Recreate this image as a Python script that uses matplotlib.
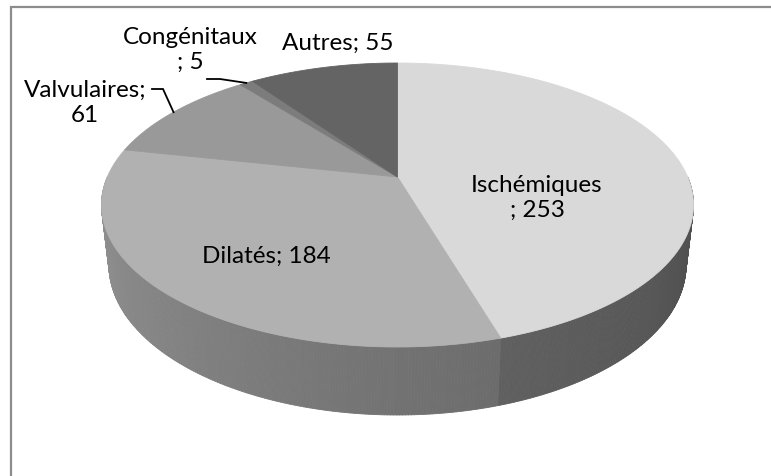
import numpy as np
import matplotlib
matplotlib.use("Agg")
import matplotlib.pyplot as plt
from matplotlib.patches import Polygon
from matplotlib.collections import PolyCollection
from matplotlib.colors import to_rgb

# ---- data ----
categories = ["Ischémiques", "Dilatés", "Valvulaires", "Congénitaux", "Autres"]
values = [253, 184, 61, 5, 55]
label_texts = ["Ischémiques\n; 253", "Dilatés; 184", "Valvulaires;\n61",
               "Congénitaux\n; 5", "Autres; 55"]

# ---- style ----
top_colors = ["#d9d9d9", "#b1b1b1", "#999999", "#7c7c7c", "#646464"]
side_colors = [("#4b4b4b", "#606060"), ("#6c6c6c", "#959595"),
               ("#707070", "#707070"), ("#606060", "#606060"), ("#454545", "#454545")]
label_pos = [(537, 198), (266, 256), (85, 103), (190, 50), (338, 43)]

W, H = 771, 476
fig = plt.figure(figsize=(W / 100, H / 100), dpi=100)
ax = fig.add_axes([0, 0, 1, 1])
ax.set_xlim(0, W)
ax.set_ylim(H, 0)
ax.axis("off")

# ---- perspective projection of a cylinder ----
cx, cy = 397.5, 177
v_far, v_near, half_w, v_bot = 114, 170, 296, 238
k = (v_near - v_far) / (v_near + v_far)
f_over_D = half_w * np.sqrt(1 - k ** 2)
s = v_far * (1 + k) / f_over_D
c = np.sqrt(1 - s ** 2)
D = c / k
f = f_over_D * D
h = (v_bot * (D - c) - f * s) / (f * c - v_bot * s)


def proj(theta, Y):
    X = np.sin(theta)
    Z = np.cos(theta)
    depth = D + c * Z - s * Y
    u = f * X / depth
    v = f * (s * Z + c * Y) / depth
    return cx + u, cy - v


total = float(sum(values))
angles = np.concatenate([[0], np.cumsum(values) / total * 2 * np.pi])

# side walls (front half only)
quads, qcols, qdepth = [], [], []
lo_vis, hi_vis = np.pi / 2, 3 * np.pi / 2
step = np.deg2rad(0.5)
for i in range(len(values)):
    a0, a1 = max(angles[i], lo_vis), min(angles[i + 1], hi_vis)
    if a1 <= a0:
        continue
    n = max(2, int(np.ceil((a1 - a0) / step)) + 1)
    ts = np.linspace(a0, a1, n)
    c0, c1 = np.array(to_rgb(side_colors[i][0])), np.array(to_rgb(side_colors[i][1]))
    for t0, t1 in zip(ts[:-1], ts[1:]):
        x0, y0 = proj(t0, 0)
        x1, y1 = proj(t1, 0)
        x2, y2 = proj(t1, -h)
        x3, y3 = proj(t0, -h)
        quads.append([(x0, y0), (x1, y1), (x2, y2), (x3, y3)])
        tm = 0.5 * (t0 + t1)
        fr = (tm - a0) / (a1 - a0)
        qcols.append(tuple(c0 + (c1 - c0) * fr))
        qdepth.append(D + c * np.cos(tm))
order = np.argsort(qdepth)[::-1]
pc = PolyCollection([quads[j] for j in order], facecolors=[qcols[j] for j in order],
                    edgecolors=[qcols[j] for j in order], linewidths=0.6)
ax.add_collection(pc)

# top face
for i in range(len(values)):
    ts = np.linspace(angles[i], angles[i + 1],
                     max(3, int((angles[i + 1] - angles[i]) / np.deg2rad(0.25))))
    xs, ys = proj(ts, 0)
    pts = [(cx, cy)] + list(zip(xs, ys))
    ax.add_patch(Polygon(pts, closed=True, facecolor=top_colors[i],
                         edgecolor=top_colors[i], linewidth=0.6))

# labels
for i, txt in enumerate(label_texts):
    ax.text(label_pos[i][0], label_pos[i][1], txt, ha="center", va="center",
            multialignment="center", fontsize=17.5, family=["Lato", "DejaVu Sans"],
            color="black", linespacing=1.2)

# leader lines
mid_v = 0.5 * (angles[2] + angles[3])
ex, ey = proj(mid_v, 0)
ax.plot([152, 163, ex], [89, 89, ey], color="black", lw=1.3, solid_joinstyle="miter")
mid_c = 0.5 * (angles[3] + angles[4])
ex, ey = proj(mid_c, 0)
ax.plot([207, 220, ex], [79, 79, ey], color="black", lw=1.3, solid_joinstyle="miter")

# frame (left and top edges only)
ax.plot([11, 11, W + 5], [H + 5, 7, 7], color="#8c8c8c", lw=1.6, solid_joinstyle="miter")

fig.savefig("out.png", dpi=100, facecolor="white")
